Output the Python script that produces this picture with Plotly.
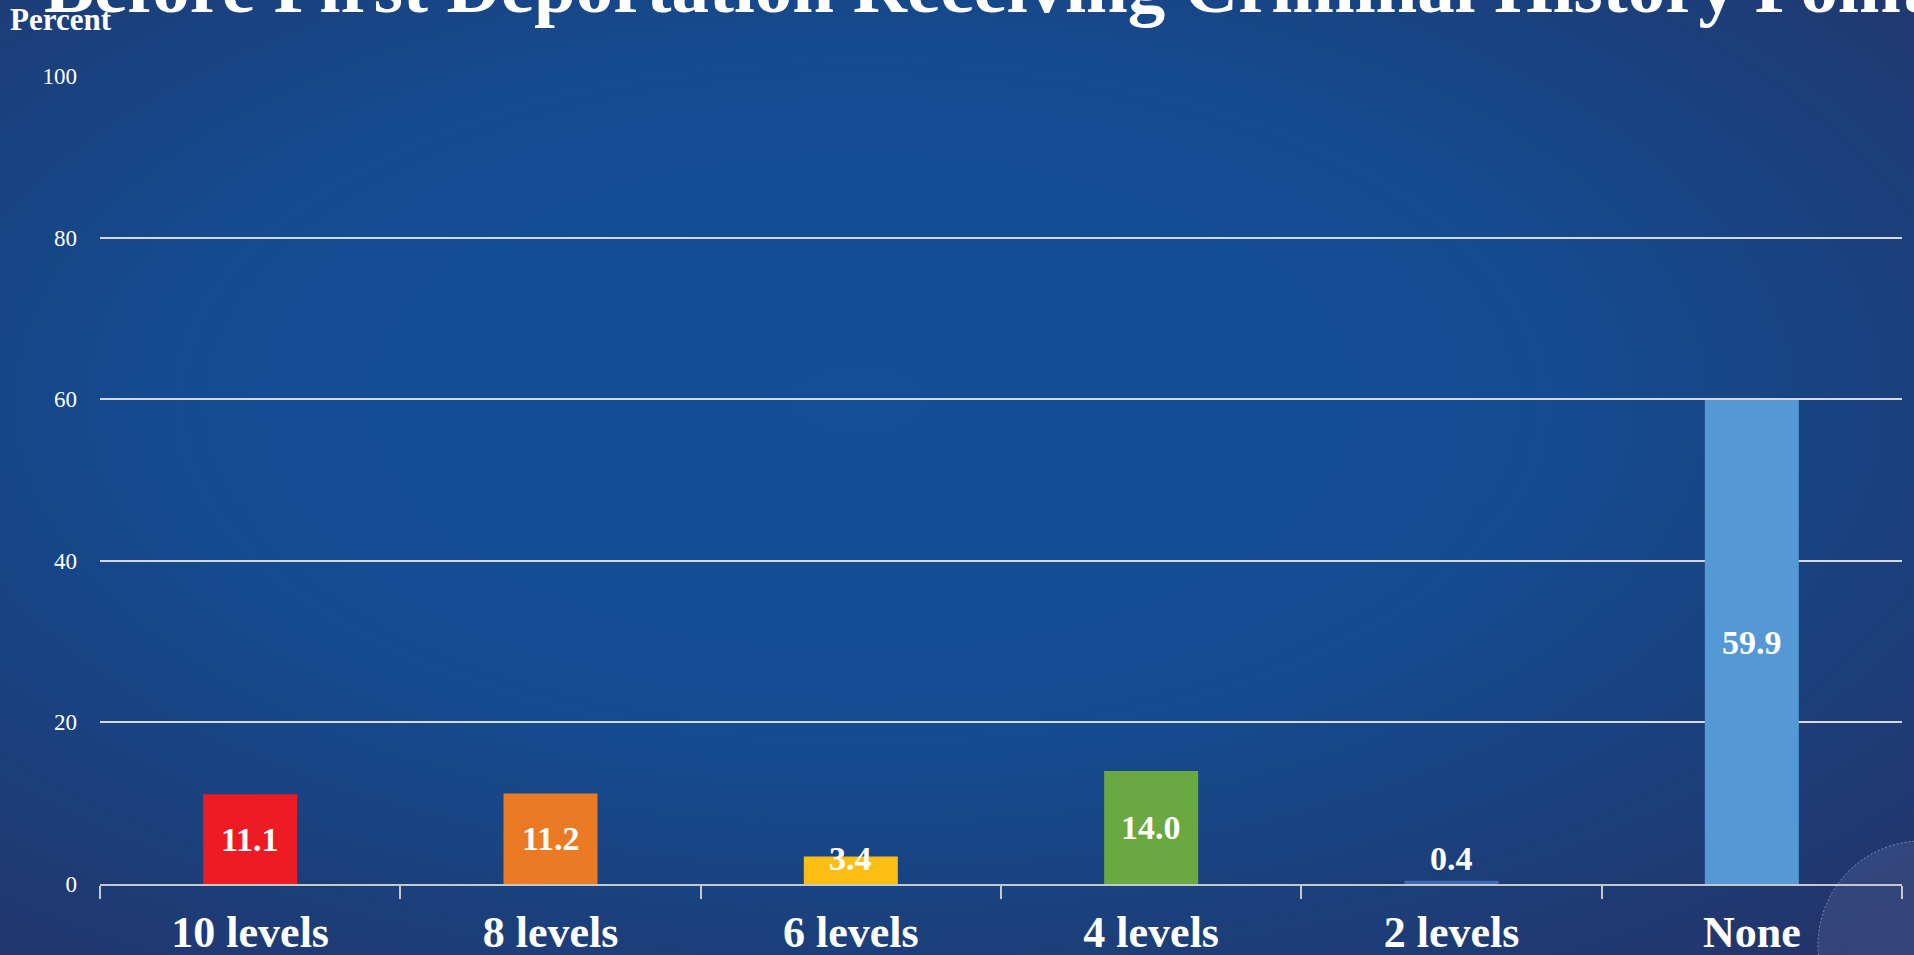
import base64
import plotly.graph_objects as go

categories = ["10 levels", "8 levels", "6 levels", "4 levels", "2 levels", "None"]
percent = [11.1, 11.2, 3.4, 14.0, 0.4, 59.9]
bar_colors = ["#ED1C24", "#EA7B24", "#FDBE14", "#6AA842", "#3D6DB5", "#5498D6"]
y_ticks = [0, 20, 40, 60, 80, 100]
title_text = "Before First Deportation Receiving Criminal History Points"

W, H = 1914, 955
ML, MR, MT, MB = 100, 12, 76, 71
PW, PH = W - ML - MR, H - MT - MB

SERIF = "Liberation Serif, DejaVu Serif, serif"

# background gradient as an svg image
bg_svg = f"""<svg xmlns='http://www.w3.org/2000/svg' width='{W}' height='{H}'>
<defs>
<radialGradient id='g' cx='0.45' cy='0.42' r='0.78'>
<stop offset='0' stop-color='#134f96'/>
<stop offset='0.45' stop-color='#144c92'/>
<stop offset='0.72' stop-color='#1b407c'/>
<stop offset='1' stop-color='#24336a'/>
</radialGradient>
</defs>
<rect width='{W}' height='{H}' fill='url(#g)'/>
<circle cx='1922' cy='945' r='104' fill='#8a9cc4' fill-opacity='0.16' stroke='#b8c4dc' stroke-opacity='0.6' stroke-width='1' stroke-dasharray='2,2'/>
</svg>"""
bg_src = "data:image/svg+xml;base64," + base64.b64encode(bg_svg.encode()).decode()

fig = go.Figure()
fig.add_trace(go.Bar(x=categories, y=percent, marker_color=bar_colors,
                     marker_line_width=0, hoverinfo="x+y"))

# value labels, kept near the axis for short bars
for c, v in zip(categories, percent):
    fig.add_annotation(x=c, y=max(v / 2, 3.2), text=f"<b>{v:.1f}</b>", showarrow=False,
                       font=dict(family=SERIF, size=34, color="white"))

fig.add_annotation(xref="paper", yref="paper", x=-(ML - 8) / PW, y=1 + MT / PH,
                   xanchor="left", yanchor="top", text="<b>Percent</b>", showarrow=False,
                   font=dict(family=SERIF, size=31, color="white"))
fig.add_annotation(xref="paper", yref="paper", x=-(ML - 42) / PW, y=1 + 46 / PH,
                   xanchor="left", yanchor="bottom", text=f"<b>{title_text}</b>", showarrow=False,
                   font=dict(family=SERIF, size=75, color="white"))

fig.add_layout_image(dict(source=bg_src, xref="paper", yref="paper",
                          x=-ML / PW, y=1 + MT / PH, sizex=W / PW, sizey=H / PH,
                          xanchor="left", yanchor="top", sizing="stretch", layer="below"))

fig.update_xaxes(showline=True, linecolor="#C8C8C8", linewidth=2, automargin=False,
                 ticks="outside", tickson="boundaries", ticklen=13, tickwidth=2, tickcolor="#C8C8C8",
                 tickfont=dict(family=SERIF, size=44, color="white"), ticklabelstandoff=8,
                 tickprefix="<b>", ticksuffix="</b>", showgrid=False)
fig.update_yaxes(range=[0, 100], tickvals=y_ticks, showgrid=True, gridcolor="#D8D8D8", gridwidth=1.5,
                 zeroline=False, ticks="", ticklabelstandoff=22, automargin=False,
                 tickfont=dict(family=SERIF, size=23, color="white"))
fig.update_layout(width=W, height=H, margin=dict(l=ML, r=MR, t=MT, b=MB),
                  paper_bgcolor="#144c92", plot_bgcolor="rgba(0,0,0,0)",
                  bargap=0.687, showlegend=False)

# no white page border around the figure
fig.write_html("out.html", config={"displayModeBar": False},
               post_script="document.body.style.margin='0';document.body.style.overflow='hidden';")
